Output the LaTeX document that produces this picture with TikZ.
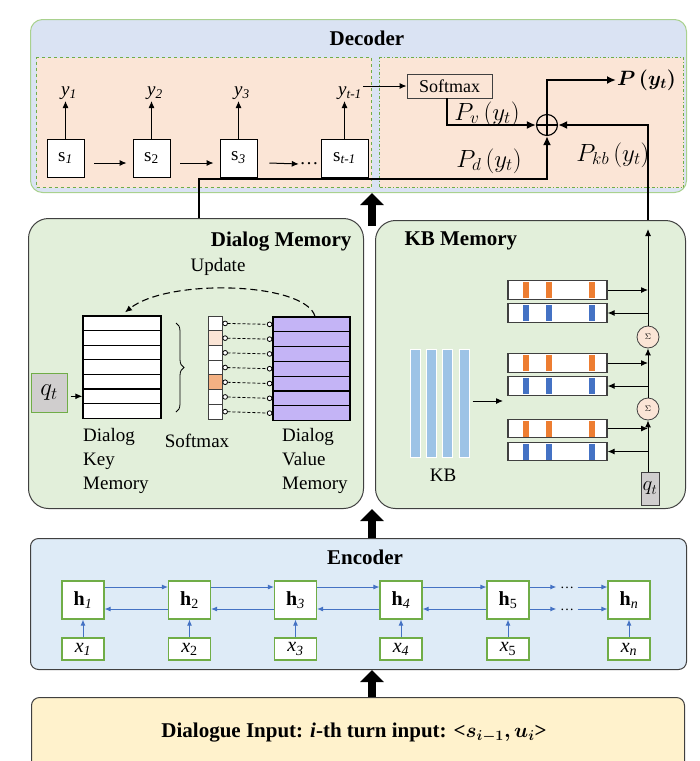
\documentclass[tikz,border=0pt]{standalone}
\usepackage{amsmath}
\usepackage{bm}
\usepackage{fontspec}
\setmainfont{Liberation Serif}
\usetikzlibrary{arrows.meta,decorations.pathreplacing,calc}
\definecolor{decblue}{HTML}{DAE3F3}
\definecolor{encblue}{HTML}{DEEBF7}
\definecolor{peach}{HTML}{FBE5D6}
\definecolor{memgreen}{HTML}{E2EFDA}
\definecolor{inyellow}{HTML}{FFF2CC}
\definecolor{lgreen}{HTML}{70AD47}
\definecolor{bgreen}{HTML}{A9D18E}
\definecolor{vpurple}{HTML}{C4B4F6}
\definecolor{kbblue}{HTML}{9DC3E6}
\definecolor{ostripe}{HTML}{ED7D31}
\definecolor{bstripe}{HTML}{4472C4}
\definecolor{qgray}{HTML}{D0CECE}
\definecolor{eblue}{HTML}{4472C4}
\definecolor{sorange}{HTML}{F4B183}
\definecolor{edgegray}{HTML}{404040}
\begin{document}
\begin{tikzpicture}[x=1pt,y=-1pt,
  font=\fontsize{19}{24}\selectfont,
  container/.style={draw=#1, anchor=north west, inner sep=0, line width=1},
  title/.style={font=\bfseries\fontsize{21}{24}\selectfont},
  mathlab/.style={inner sep=1, font=\fontsize{23}{26}\selectfont},
  sbox/.style={draw=black, fill=white, minimum width=37, minimum height=38, inner sep=0, line width=0.9},
  darrow/.style={-{Latex[length=7,width=6]}, line width=1},
  tline/.style={line width=2, -{Latex[length=9,width=8]}},
  bigarrow/.style={line width=8, -{Triangle[length=12,width=23]}},
  keyrow/.style={draw=black, line width=1.3, fill=white, minimum width=78, minimum height=14.6, inner sep=0},
  valrow/.style={draw=black, line width=1.3, fill=vpurple, minimum width=77, minimum height=14.8, inner sep=0},
  smcell/.style={draw=edgegray, line width=0.8, minimum width=14, minimum height=14.7, inner sep=0},
  dotline/.style={densely dashed, line width=0.8, {Circle[length=5.5,fill=white,line width=0.8]}-{Circle[length=5.5,fill=white,line width=0.8]}},
  kbrow/.style={draw=edgegray, line width=1.2, fill=white, minimum width=99, minimum height=18.5, inner sep=0},
  sigma/.style={circle, draw=edgegray, line width=0.8, fill=peach, minimum size=22, inner sep=0, font=\fontsize{8}{8}\selectfont},
  hbox/.style={draw=lgreen, fill=white, line width=1.1, minimum width=42, minimum height=38, inner sep=0, font=\fontsize{20}{24}\selectfont},
  xbox/.style={draw=lgreen, fill=white, line width=1.1, minimum width=42, minimum height=22, inner sep=0, font=\fontsize{20}{24}\selectfont},
  earrow/.style={draw=eblue, line width=1, -{Latex[length=6,width=5]}},
  lab/.style={inner sep=1}
]
\useasboundingbox (0,0) rectangle (700,761);
\clip (0,0) rectangle (700,761);

% ---------------- containers ----------------
\node[container=bgreen, fill=decblue, rounded corners=12, minimum width=656, minimum height=173] (dec) at (30,19) {};
\node[container=lgreen, fill=peach, dashed, minimum width=335, minimum height=130] (decL) at (36,57) {};
\node[container=lgreen, fill=peach, dash dot, minimum width=304, minimum height=130] (decR) at (379,57) {};
\node[container=edgegray, fill=memgreen, rounded corners=20, minimum width=335, minimum height=290] (dm) at (28,218) {};
\node[container=edgegray, fill=memgreen, rounded corners=20, minimum width=310, minimum height=288] (kbm) at (375,220) {};
\node[container=edgegray, fill=encblue, rounded corners=8, minimum width=656, minimum height=131] (enc) at (30,538) {};
\node[container=edgegray, fill=inyellow, rounded corners=8, minimum width=653, minimum height=90] (inp) at (31,697) {};

\node[title] (dectitle) at (367,38) {Decoder};
\node[title, anchor=east] (dmtitle) at (355,242) {Dialog Memory};
\node[title, anchor=west] (kbtitle) at (401,241) {KB Memory};
\node[title] (enctitle) at (365,557) {Encoder};

% ---------------- big arrows ----------------
\coordinate (ax) at (372,0);
\draw[bigarrow] ($(dm.north -| ax)+(0,8)$) -- (dec.south -| ax);
\draw[bigarrow] (enc.north -| ax) -- (dm.south -| ax);
\draw[bigarrow] (inp.north -| ax) -- (enc.south -| ax);

% ---------------- decoder ----------------
\node[sbox] (s1) at (65.5,158) {s\textsubscript{\textit{1}}};
\node[sbox] (s2) at (151.5,158) {s\textsubscript{2}};
\node[sbox] (s3) at (238.5,158) {s\textsubscript{\textit{3}}};
\node[sbox, minimum width=47] (st) at (344.5,158) {s\textsubscript{\textit{t-1}}};
\node[lab, anchor=south] (y1) at (69,101) {\textit{y}\textsubscript{\textit{1}}};
\node[lab, anchor=south] (y2) at (155,101) {\textit{y}\textsubscript{\textit{2}}};
\node[lab, anchor=south] (y3) at (242,101) {\textit{y}\textsubscript{\textit{3}}};
\node[lab, anchor=south] (ytm) at (350,101) {\textit{y}\textsubscript{\textit{t-1}}};
\foreach \s/\y in {s1/y1,s2/y2,s3/y3,st/ytm}
  \draw[darrow] (\s.north) -- (\y.south -| \s.north);
\draw[darrow] ($(s1.east)+(10,5)$) -- ($(s2.west)+(-6,5)$);
\draw[darrow] ($(s2.east)+(10,5)$) -- ($(s3.west)+(-6,5)$);
\node[inner sep=0.5] (sdots) at (309,164) {\ldots};
\draw[darrow] ($(s3.east)+(12,5)$) -- (sdots.west);

\node[draw=edgegray, line width=0.9, minimum width=85, minimum height=24, inner sep=0, font=\fontsize{18}{20}\selectfont] (soft) at (449.5,86) {Softmax};
\draw[darrow] (ytm.east |- soft.west) -- (soft.west);
\node[circle, draw=black, line width=1.1, minimum size=21, inner sep=0] (plus) at (547,125) {};
\draw[line width=1.1] (plus.north) -- (plus.south) (plus.west) -- (plus.east);
\draw[tline] ($(soft.south)+(-3,0)$) |- (plus.west);
\node[mathlab] (pv) at (487,114) {$P_v\,(y_t)$};
\node[mathlab, anchor=west, font=\fontsize{20}{24}\selectfont] (pout) at (616,80) {$\bm{P\,(y_t)}$};
\draw[tline] (plus.north) |- (pout.west);
\coordinate (kx) at (648,0);
\draw[tline] (kbm.north -| kx) |- (plus.east);
\node[mathlab] (pkb) at (613,155) {$P_{kb}\,(y_t)$};
\coordinate (pdy) at (199,179);
\draw[tline] (dm.north -| pdy) -- (pdy) -| (plus.south);
\node[mathlab] (pd) at (489,161) {$P_d\,(y_t)$};

% ---------------- dialog memory ----------------
\foreach \i in {0,...,6}
  \node[keyrow] (k\i) at (122,{323.3+\i*14.6}) {};
\foreach \i/\c in {0/white,1/peach,2/white,3/white,4/sorange,5/white,6/white}
  \node[smcell, fill=\c] (c\i) at (215,{323.35+\i*14.7}) {};
\foreach \i in {0,...,6}
  \node[valrow] (v\i) at (311.5,{324.4+\i*14.8}) {};
\foreach \i in {0,...,6}
  \draw[dotline] (c\i.east) -- (v\i.west);
\draw[decorate, decoration={brace, amplitude=8}, line width=0.8] (176,323) -- (176,412);
\node (upd) at (218,267) {Update};
\draw[dashed, dash pattern=on 7 off 4, line width=1.1, -{Latex[length=7,width=6]}]
  ($(v0.north)+(3.5,0)$) .. controls (305,282) and (168,278) .. ($(k0.north)+(3,-3)$);
\node[draw=lgreen, fill=qgray, line width=1, minimum width=36, minimum height=39, inner sep=0, font=\fontsize{23}{24}\selectfont] (qt1) at (49,392.5) {$q_t$};
\draw[darrow] ($(qt1.east |- k5.west)+(3,0)$) -- (k5.west);
\node[anchor=north west, align=left, inner sep=0] (klab) at (83,428) {Dialog\\Key\\Memory};
\node (smlab) at (197,441) {Softmax};
\node[anchor=north west, align=left, inner sep=0] (vlab) at (282,428) {Dialog\\Value\\Memory};

% ---------------- KB memory ----------------
\foreach \x [count=\i] in {415.5,431.5,447.5,464}
  \node[fill=kbblue, draw=white, line width=1, minimum width=10, minimum height=108, inner sep=0] (kb\i) at (\x,403) {};
\node (kblab) at (443,475) {KB};
\coordinate (kbin) at (503,401);
\draw[darrow] ($(kb4.east |- kbin)+(3,0)$) -- (kbin);
\foreach \n/\yy/\c in {o1/290/ostripe, b1/313/bstripe, o2/363/ostripe, b2/386/bstripe, o3/428.5/ostripe, b3/451.5/bstripe} {
  \node[kbrow] (\n) at (557.5,\yy) {};
  \foreach \dx in {16,39,82}
    \fill[\c] ($(\n.west)+(\dx,-8)$) rectangle ++(6,16);
}
\node[sigma] (sg1) at (648,337) {$\Sigma$};
\node[sigma] (sg2) at (648,409) {$\Sigma$};
\node[draw=edgegray, fill=qgray, line width=0.9, minimum width=18, minimum height=33, inner sep=0, font=\fontsize{21}{22}\selectfont] (qt2) at (650,488.5) {$q_t$};
\coordinate (ktop) at (648,229);
\draw[darrow] (qt2.north -| kx) -- (sg2.south);
\draw[darrow] (sg2.north) -- (sg1.south);
\draw[darrow] (sg1.north) -- (ktop);
\foreach \o/\b in {o1/b1,o2/b2,o3/b3} {
  \draw[darrow] (\o.east) -- (\o.east -| kx);
  \draw[darrow] (\b.east -| kx) -- (\b.east);
}

% ---------------- encoder ----------------
\foreach \n/\x/\sub in {1/83/{\textit{1}}, 2/189.5/{2}, 3/295.5/{\textit{3}}, 4/401/{\textit{4}}, 5/508/{5}, n/629/{\textit{n}}} {
  \node[hbox] (h\n) at (\x,600) {\textbf{h}\textsubscript{\sub}};
  \node[xbox] (x\n) at (\x,649) {\textit{x}\textsubscript{\sub}};
  \draw[earrow] (x\n.north) -- (h\n.south);
}
\foreach \i/\j in {1/2,2/3,3/4,4/5} {
  \draw[earrow] ($(h\i.east)+(0,-13)$) -- ($(h\j.west)+(0,-13)$);
  \draw[earrow] ($(h\j.west)+(0,9)$) -- ($(h\i.east)+(0,9)$);
}
\node[inner sep=0.5, font=\fontsize{14}{14}\selectfont] (ed1) at (567,588) {\ldots};
\node[inner sep=0.5, font=\fontsize{14}{14}\selectfont] (ed2) at (567,610) {\ldots};
\draw[earrow] ($(h5.east)+(0,-13)$) -- ($(ed1.west)+(-3,-1)$);
\draw[earrow] ($(ed1.east)+(3,-1)$) -- ($(hn.west)+(0,-13)$);
\draw[earrow] ($(h5.east)+(0,9)$) -- ($(ed2.west)+(-3,-1)$);
\draw[earrow] ($(ed2.east)+(3,-1)$) -- ($(hn.west)+(0,9)$);

% ---------------- input ----------------
\node[font=\bfseries\fontsize{21}{24}\selectfont] (inlab) at (354,733) {Dialogue Input: \textit{i}-th turn input: <$\bm{s_{i-1}, u_i}$>};
\end{tikzpicture}
\end{document}
